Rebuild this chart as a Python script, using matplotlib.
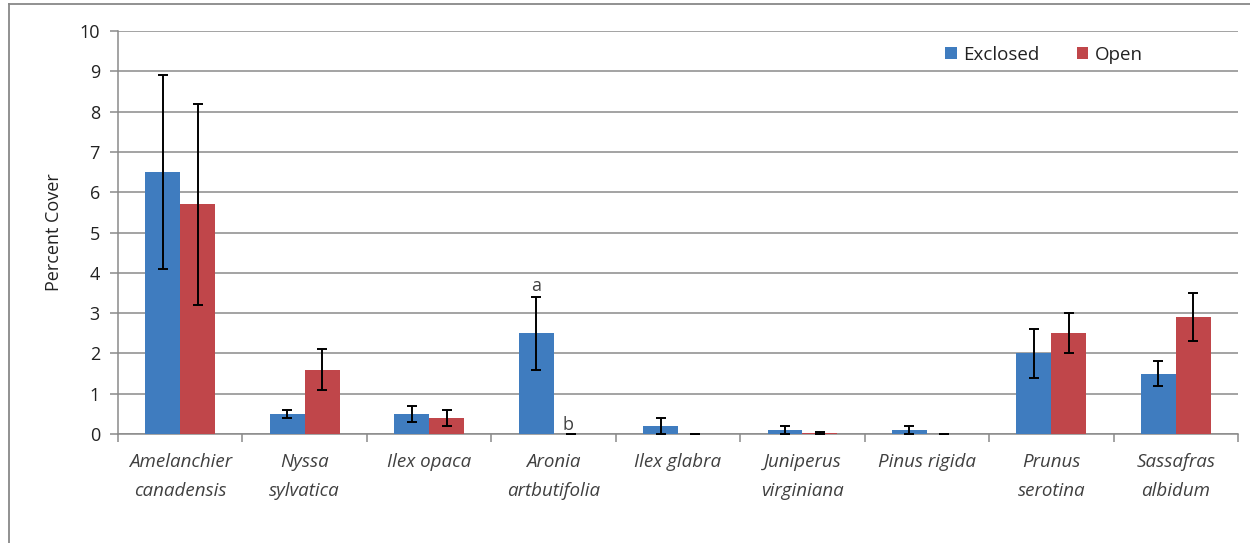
import matplotlib.pyplot as plt
import numpy as np
from matplotlib.lines import Line2D

SPECIES = ['Amelanchier\ncanadensis', 'Nyssa\nsylvatica', 'Ilex opaca', 'Aronia\nartbutifolia',
           'Ilex glabra', 'Juniperus\nvirginiana', 'Pinus rigida', 'Prunus\nserotina', 'Sassafras\nalbidum']
EXCLOSED = [6.5, 0.5, 0.5, 2.5, 0.2, 0.1, 0.1, 2.0, 1.5]
EXCLOSED_ERR = [2.4, 0.1, 0.2, 0.9, 0.2, 0.1, 0.1, 0.6, 0.3]
OPEN = [5.7, 1.6, 0.4, 0.0, 0.0, 0.03, 0.0, 2.5, 2.9]
OPEN_ERR = [2.5, 0.5, 0.2, 0.0, 0.0, 0.02, 0.0, 0.5, 0.6]

BLUE = '#3f7cbf'
RED = '#c0464a'
GRID = '#8a8a8a'
TEXT = '#404040'

plt.rcParams['font.family'] = ['Open Sans', 'DejaVu Sans']

fig = plt.figure(figsize=(12.5, 5.43), dpi=100)
ax = fig.add_axes([0.0944, 0.2007, 0.896, 0.7422])

x = np.arange(len(SPECIES)) + 0.5
w = 0.28
err_kw = dict(ecolor='black', elinewidth=1.4, capsize=3.3, capthick=1.4)
ax.bar(x - w / 2, EXCLOSED, w, yerr=EXCLOSED_ERR, color=BLUE, label='Exclosed',
       error_kw=err_kw, zorder=3)
ax.bar(x + w / 2, OPEN, w, yerr=OPEN_ERR, color=RED, label='Open',
       error_kw=err_kw, zorder=3)

# significance letters for Aronia
ax.text(x[3] - w / 2, EXCLOSED[3] + EXCLOSED_ERR[3] + 0.05, 'a', ha='center', va='bottom',
        fontsize=13, color=TEXT)
ax.text(x[3] + w / 2 - 0.02, 0.0, 'b', ha='center', va='bottom', fontsize=13, color=TEXT)

ax.set_xlim(0, len(SPECIES))
ax.set_ylim(0, 10)
ax.set_yticks(range(0, 11))
ax.yaxis.grid(True, color=GRID, linewidth=1.1, zorder=0)
ax.set_axisbelow(True)

ax.set_xticks(x)
ax.set_xticklabels(SPECIES, style='italic', fontsize=13.5, color=TEXT, linespacing=1.75)
ax.set_xticks(np.arange(len(SPECIES) + 1), minor=True)
ax.tick_params(axis='x', which='major', length=0, pad=14)
ax.tick_params(axis='x', which='minor', length=6, color=GRID, width=1.1)
ax.tick_params(axis='y', length=6, color=GRID, width=1.1, labelsize=13, labelcolor='#222222', pad=7)

for side in ['top', 'right']:
    ax.spines[side].set_visible(False)
for side in ['left', 'bottom']:
    ax.spines[side].set_color(GRID)
    ax.spines[side].set_linewidth(1.1)

ax.set_ylabel('Percent Cover', fontsize=13, color='#222222', labelpad=12)

ax.legend(loc='upper right', bbox_to_anchor=(0.93, 1.005), ncol=2, frameon=False,
          handlelength=0.6, handleheight=0.6, handletextpad=0.35, columnspacing=2.0,
          fontsize=13.5, labelcolor='#222222')

# outer chart frame (left and top edges)
fig.add_artist(Line2D([0.0068, 0.0068], [0.0, 0.992], color='#888888', lw=1.3,
                      transform=fig.transFigure))
fig.add_artist(Line2D([0.0068, 1.0], [0.992, 0.992], color='#888888', lw=1.3,
                      transform=fig.transFigure))

fig.savefig('out.png', dpi=100)
